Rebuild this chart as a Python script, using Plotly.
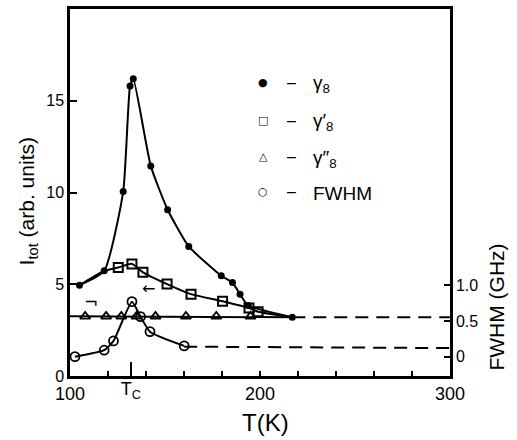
import plotly.graph_objects as go

# ---- data ----
T_g8 = [105, 118, 128, 131.6, 133.3, 142.5, 151.4, 162.5, 179.6, 185.5, 189.5, 193.8, 217]
I_g8 = [4.95, 5.73, 10.05, 15.8, 16.2, 11.45, 9.06, 7.06, 5.46, 5.1, 4.45, 3.84, 3.2]

T_g8p = [125.4, 132.6, 138.4, 151.1, 163.7, 180.3, 194.2, 199]
I_g8p = [5.91, 6.11, 5.65, 5.01, 4.46, 4.07, 3.7, 3.5]

T_g8pp = [108, 119, 127, 135, 145, 161, 177, 195]
I_g8pp = [3.25, 3.25, 3.25, 3.25, 3.25, 3.25, 3.25, 3.25]
T_g8pp_line = [100, 217]
I_g8pp_line = [3.25, 3.2]
T_dash_hi = [217, 300]
I_dash_hi = [3.2, 3.2]

T_fwhm = [102.6, 118, 122.9, 132.6, 137.1, 142.1, 160.1]
F_fwhm = [0.0, 0.09, 0.22, 0.77, 0.56, 0.35, 0.15]
T_fwhm_dash = [160.1, 300]
F_fwhm_dash = [0.14, 0.12]

x_ticks = [100, 200, 300]
x_ticktext = ["100", "200", "300"]
x_minor_step = 20
T_c = 132
y_ticks = [0, 5, 10, 15]
y2_ticks = [0, 0.5, 1.0]
y2_ticktext = ["0", "0.5", "1.0"]

FONT = "Liberation Sans, Arial, sans-serif"
BLACK = "#000000"

fig = go.Figure()

# gamma8 (filled circles)
fig.add_trace(go.Scatter(
    x=T_g8, y=I_g8, mode="lines+markers",
    line=dict(color=BLACK, width=2, shape="spline", smoothing=0.5),
    marker=dict(symbol="circle", size=7, color=BLACK),
    showlegend=False))

# gamma8' curve (shares start with gamma8 and converges at the end)
fig.add_trace(go.Scatter(
    x=T_g8[:2] + T_g8p + T_g8[-1:], y=I_g8[:2] + I_g8p + I_g8[-1:], mode="lines",
    line=dict(color=BLACK, width=2, shape="spline", smoothing=0.6),
    showlegend=False))
fig.add_trace(go.Scatter(
    x=T_g8p, y=I_g8p, mode="markers",
    marker=dict(symbol="square-open", size=9, color=BLACK, line=dict(width=2)),
    showlegend=False))

# gamma8'' (triangles) + horizontal lines
fig.add_trace(go.Scatter(
    x=T_g8pp_line, y=I_g8pp_line, mode="lines",
    line=dict(color=BLACK, width=2), showlegend=False))
fig.add_trace(go.Scatter(
    x=T_dash_hi, y=I_dash_hi, mode="lines",
    line=dict(color=BLACK, width=2, dash="13px,8px"), showlegend=False))
fig.add_trace(go.Scatter(
    x=T_g8pp, y=I_g8pp, mode="markers",
    marker=dict(symbol="triangle-up-open", size=9, color=BLACK, line=dict(width=1.8)),
    showlegend=False))

# FWHM (open circles) on right axis
fig.add_trace(go.Scatter(
    x=T_fwhm, y=F_fwhm, mode="lines", yaxis="y2",
    line=dict(color=BLACK, width=2, shape="spline", smoothing=0.5),
    showlegend=False))
fig.add_trace(go.Scatter(
    x=T_fwhm_dash, y=F_fwhm_dash, mode="lines", yaxis="y2",
    line=dict(color=BLACK, width=2, dash="13px,8px"), showlegend=False))
fig.add_trace(go.Scatter(
    x=T_fwhm, y=F_fwhm, mode="markers", yaxis="y2",
    marker=dict(symbol="circle-open", size=9, color=BLACK, line=dict(width=1.8)),
    showlegend=False))

# invisible trace for Tc axis
fig.add_trace(go.Scatter(x=[T_c], y=[0], xaxis="x2", mode="markers",
                         marker=dict(opacity=0), showlegend=False, hoverinfo="skip"))

W, H = 517, 440
L, R, T, B = 70, 67, 6, 64
pw, ph = W - L - R, H - T - B

def px(x):
    return (x - L) / pw

def py(y):
    return (H - B - y) / ph

fig.update_layout(
    width=W, height=H,
    margin=dict(l=L, r=R, t=T, b=B),
    paper_bgcolor="white", plot_bgcolor="white",
    font=dict(family=FONT, color=BLACK),
    xaxis=dict(range=[100, 300], tickvals=x_ticks, ticktext=x_ticktext,
               ticks="inside", ticklen=5, tickwidth=2, tickcolor=BLACK,
               minor=dict(ticks="inside", ticklen=5, tickwidth=2, tickcolor=BLACK,
                          tick0=100, dtick=x_minor_step, showgrid=False),
               showline=True, linewidth=2.5, linecolor=BLACK, mirror=True,
               showgrid=False, zeroline=False, tickfont=dict(size=18, family=FONT)),
    xaxis2=dict(range=[100, 300], overlaying="x", side="bottom", anchor="y",
                tickvals=[T_c], ticktext=["T<sub>C</sub>"],
                ticks="inside", ticklen=14, tickwidth=2, tickcolor=BLACK,
                showline=False, showgrid=False, zeroline=False,
                tickfont=dict(size=18, family=FONT)),
    yaxis=dict(range=[0, 20], tickvals=y_ticks,
               ticks="inside", ticklen=7, tickwidth=2, tickcolor=BLACK,
               showline=True, linewidth=2.5, linecolor=BLACK, mirror=True,
               showgrid=False, zeroline=False, tickfont=dict(size=16, family=FONT)),
    yaxis2=dict(range=[-0.271, 4.868], overlaying="y", side="right",
                tickvals=y2_ticks, ticktext=y2_ticktext,
                ticks="inside", ticklen=6, tickwidth=2, tickcolor=BLACK,
                showline=True, linewidth=2.5, linecolor=BLACK,
                showgrid=False, zeroline=False, tickfont=dict(size=16, family=FONT)),
)

ann = []
# axis titles
ann.append(dict(text="I<sub>tot</sub> (arb. units)", x=px(28), y=py(200), xref="paper", yref="paper",
                textangle=-90, showarrow=False, font=dict(size=21, family=FONT),
                xanchor="center", yanchor="middle"))
ann.append(dict(text="FWHM (GHz)", x=px(497), y=py(307), xref="paper", yref="paper",
                textangle=-90, showarrow=False, font=dict(size=21, family=FONT),
                xanchor="center", yanchor="middle"))
ann.append(dict(text="T(K)", x=px(265), y=py(423), xref="paper", yref="paper",
                showarrow=False, font=dict(size=24, family=FONT),
                xanchor="center", yanchor="middle"))

# legend rows
rows = [("●", "γ<sub>8</sub>", 80), ("□", "γ′<sub>8</sub>", 118),
        ("△", "γ″<sub>8</sub>", 155), ("○", "FWHM", 190)]
for sym, lab, yy in rows:
    ann.append(dict(text=sym, x=px(263), y=py(yy), xref="paper", yref="paper",
                    showarrow=False, font=dict(size=11, family="DejaVu Sans"),
                    xanchor="center", yanchor="middle"))
    ann.append(dict(text="–", x=px(291), y=py(yy), xref="paper", yref="paper",
                    showarrow=False, font=dict(size=16, family=FONT),
                    xanchor="center", yanchor="middle"))
    ann.append(dict(text=lab, x=px(311), y=py(yy + 2), xref="paper", yref="paper",
                    showarrow=False, font=dict(size=19, family=FONT),
                    xanchor="left", yanchor="middle"))

# small arrows
ann.append(dict(text="←", x=px(148), y=py(288), xref="paper", yref="paper",
                showarrow=False, font=dict(size=16, family="DejaVu Sans"),
                xanchor="center", yanchor="middle"))
ann.append(dict(text="¬", x=px(91), y=py(301), xref="paper", yref="paper",
                showarrow=False, font=dict(size=17, family="DejaVu Sans"),
                xanchor="center", yanchor="middle"))

fig.update_layout(annotations=ann)
fig.write_html("out.html", config={"displayModeBar": False},
               post_script="document.body.style.margin='0';document.body.style.overflow='hidden';")
